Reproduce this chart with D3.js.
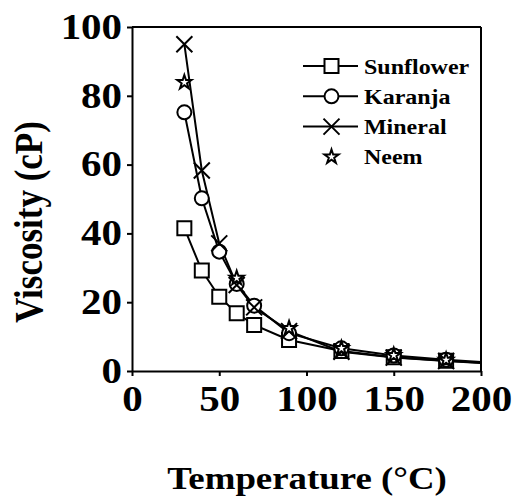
<!DOCTYPE html>
<html>
<head>
<meta charset="utf-8">
<script src="https://cdn.jsdelivr.net/npm/d3@7"></script>
<style>
  body { margin: 0; background: #fff; }
  svg { display: block; }
  text { font-family: 'Liberation Serif', 'Times New Roman', serif; font-weight: bold; fill: #000; }
</style>
</head>
<body>
<svg id="chart" width="515" height="499"></svg>
<script>
// temperatures (°C) and viscosity (cP)
var temps = [30, 40, 50, 60, 70, 90, 120, 150, 180, 200];
var sunflower = [41.5, 29.2, 21.6, 16.8, 13.4, 9.0, 5.8, 4.0, 3.0, 2.4];
var karanja = [75.2, 50.2, 34.7, 25.3, 19.0, 11.0, 6.6, 4.5, 3.3, 2.6];
var mineral = [95.0, 58.3, 37.1, 25.0, 18.5, 11.6, 5.6, 3.9, 2.9, 2.3];
var neemTemps = [30, 60, 90, 120, 150, 180];
var neem = [83.9, 27.0, 12.4, 6.6, 4.6, 3.2];

var xTicks = [0, 50, 100, 150, 200];
var yTicks = [0, 20, 40, 60, 80, 100];

var series = [
    { name: "Sunflower", x: temps, y: sunflower, marker: "square", line: true },
    { name: "Karanja", x: temps, y: karanja, marker: "circle", line: true },
    { name: "Mineral", x: temps, y: mineral, marker: "cross", line: true },
    { name: "Neem", x: neemTemps, y: neem, marker: "star", line: false }
];

var svg = d3.select("#chart");
var font = "'Liberation Serif', 'Times New Roman', serif";
var stretch = 1.17; // the figure is a little wide, text included

var x = d3.scaleLinear().domain([0, 200]).range([132, 481]);
var y = d3.scaleLinear().domain([0, 100]).range([371, 27]);

// frame on top and right
svg.append("line").attr("x1", x(0)).attr("x2", x(200)).attr("y1", y(100)).attr("y2", y(100))
    .attr("stroke", "#000").attr("stroke-width", 2);
svg.append("line").attr("x1", x(200)).attr("x2", x(200)).attr("y1", y(100)).attr("y2", y(0))
    .attr("stroke", "#000").attr("stroke-width", 2);

var gx = svg.append("g").attr("transform", "translate(0," + y(0) + ")")
    .call(d3.axisBottom(x).tickValues(xTicks).tickSize(5).tickSizeOuter(0).tickPadding(10));
var gy = svg.append("g").attr("transform", "translate(" + x(0) + ",0)")
    .call(d3.axisLeft(y).tickValues(yTicks).tickSize(5).tickSizeOuter(0).tickPadding(3.5));

[gx, gy].forEach(function (g) {
    g.select(".domain").attr("stroke-width", 2);
    g.selectAll(".tick line").attr("stroke-width", 2);
    g.selectAll("text")
        .style("font-family", font)
        .style("font-weight", "bold")
        .style("font-size", "35px")
        .attr("transform", "scale(" + stretch + ",1)");
});

// marker shapes
function markerPath(kind) {
    if (kind === "square") return "M-7,-7H7V7H-7Z";
    if (kind === "circle") return d3.symbol().type(d3.symbolCircle).size(Math.PI * 49)();
    if (kind === "cross") return "M-8,-8L8,8M-8,8L8,-8";
    return d3.symbol().type(d3.symbolStar).size(62)();
}

var line = d3.line().x(function (d) { return x(d[0]); }).y(function (d) { return y(d[1]); });

series.forEach(function (s) {
    var pts = s.x.map(function (t, i) { return [t, s.y[i]]; });
    if (s.line) {
        svg.append("path").datum(pts).attr("d", line)
            .attr("fill", "none").attr("stroke", "#000").attr("stroke-width", 2);
    }
});

// no marker shows at the right edge, only the lines reach it
series.forEach(function (s) {
    var pts = s.x.map(function (t, i) { return [t, s.y[i]]; })
        .filter(function (d) { return d[0] < 200; });
    svg.append("g").selectAll("path").data(pts).enter().append("path")
        .attr("transform", function (d) { return "translate(" + x(d[0]) + "," + y(d[1]) + ")"; })
        .attr("d", markerPath(s.marker))
        .attr("fill", "#fff").attr("stroke", "#000").attr("stroke-width", 2);
});

// legend
var legend = svg.append("g").attr("transform", "translate(303,66)");
series.forEach(function (s, i) {
    var row = legend.append("g").attr("transform", "translate(0," + i * 30.3 + ")");
    if (s.line) {
        row.append("line").attr("x1", 0).attr("x2", 55).attr("y1", 0).attr("y2", 0)
            .attr("stroke", "#000").attr("stroke-width", 2);
    }
    row.append("path").attr("transform", "translate(28.5,0)")
        .attr("d", markerPath(s.marker))
        .attr("fill", "#fff").attr("stroke", "#000").attr("stroke-width", 2);
    row.append("text")
        .attr("transform", "translate(61,7.5) scale(" + stretch + ",1)")
        .style("font-family", font)
        .style("font-size", "20.5px")
        .text(s.name);
});

// axis titles
svg.append("text")
    .attr("transform", "translate(307,489) scale(" + stretch + ",1)")
    .attr("text-anchor", "middle")
    .style("font-family", font)
    .style("font-size", "31.5px")
    .text("Temperature (°C)");

svg.append("text")
    .attr("transform", "translate(42,222) scale(" + stretch + ",1) rotate(-90)")
    .attr("text-anchor", "middle")
    .style("font-family", font)
    .style("font-size", "35px")
    .text("Viscosity (cP)");
</script>
</body>
</html>
